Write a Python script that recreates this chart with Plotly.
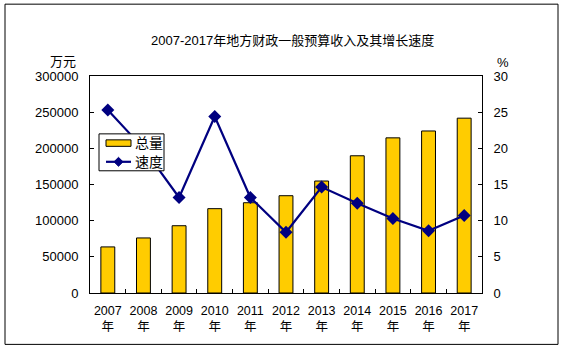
import plotly.graph_objects as go

years = ["2007", "2008", "2009", "2010", "2011", "2012", "2013", "2014", "2015", "2016", "2017"]
x_labels = [y + "<br>年" for y in years]
total = [63700, 76100, 93000, 116600, 124800, 134500, 154800, 189700, 214500, 224000, 241700]
speed = [25.3, 20.0, 13.2, 24.4, 13.2, 8.4, 14.65, 12.4, 10.3, 8.6, 10.7]
series_names = ["总量", "速度"]

FONT = "Liberation Sans, Arial, Noto Sans CJK SC, sans-serif"
BAR_COLOR = "#FFCC00"
LINE_COLOR = "#000080"

W, H = 563, 351
L, R, T, B = 90, 482, 76, 293.5
pw, ph = R - L, B - T

def px(x):
    return (x - L) / pw

def py(y):
    return (B - y) / ph

fig = go.Figure()
fig.add_trace(go.Bar(
    x=x_labels, y=total, name=series_names[0],
    marker=dict(color=BAR_COLOR, line=dict(color="black", width=1)),
    width=0.39, showlegend=False,
))
fig.add_trace(go.Scatter(
    x=x_labels, y=speed, name=series_names[1], yaxis="y2", mode="lines+markers",
    line=dict(color=LINE_COLOR, width=2.2),
    marker=dict(symbol="diamond", size=10, color=LINE_COLOR),
    showlegend=False,
))

fig.update_layout(
    width=W, height=H,
    margin=dict(l=L, r=W - R, t=T, b=H - B),
    paper_bgcolor="white", plot_bgcolor="white",
    font=dict(family=FONT, size=13, color="black"),
    showlegend=False,
    xaxis=dict(
        type="category", showline=True, linecolor="black", linewidth=1,
        mirror=True, ticks="inside", tickson="boundaries", ticklen=4,
        tickcolor="black", tickfont=dict(size=12.5), showgrid=False,
        range=[-0.5, 10.5], tickangle=0, ticklabelstandoff=6,
    ),
    yaxis=dict(
        range=[0, 300000], dtick=50000, showline=True, linecolor="black",
        linewidth=1, ticks="inside", ticklen=4, tickcolor="black",
        showgrid=False, zeroline=False, tickformat="d", ticklabelstandoff=8,
        tickfont=dict(size=13),
    ),
    yaxis2=dict(
        range=[0, 30], dtick=5, overlaying="y", side="right", showline=True,
        linecolor="black", linewidth=1, ticks="inside", ticklen=4,
        tickcolor="black", showgrid=False, zeroline=False, ticklabelstandoff=8,
        tickfont=dict(size=13),
    ),
    bargap=0.6,
)

fig.add_annotation(text="2007-2017年地方财政一般预算收入及其增长速度", xref="paper", yref="paper",
                   x=px(292), y=py(40), showarrow=False, font=dict(size=13),
                   xanchor="center", yanchor="middle")
fig.add_annotation(text="万元", xref="paper", yref="paper", x=px(78), y=py(61),
                   showarrow=False, xanchor="right", yanchor="middle", font=dict(size=13))
fig.add_annotation(text="%", xref="paper", yref="paper", x=px(495), y=py(62),
                   showarrow=False, xanchor="left", yanchor="middle", font=dict(size=13))

# outer frame
fig.add_shape(type="rect", xref="paper", yref="paper",
              x0=px(5), x1=px(558), y0=py(4), y1=py(345),
              line=dict(color="black", width=1), layer="below")

# custom legend
fig.add_shape(type="rect", xref="paper", yref="paper",
              x0=px(99), x1=px(164), y0=py(134), y1=py(171),
              line=dict(color="black", width=1), fillcolor="white", layer="above")
fig.add_shape(type="rect", xref="paper", yref="paper",
              x0=px(106), x1=px(131), y0=py(140), y1=py(146.5),
              line=dict(color="black", width=1), fillcolor=BAR_COLOR, layer="above")
fig.add_shape(type="line", xref="paper", yref="paper",
              x0=px(106), x1=px(131), y0=py(162), y1=py(162),
              line=dict(color=LINE_COLOR, width=2.2), layer="above")
cx, cy, d = 118.5, 162, 4.5
fig.add_shape(type="path", xref="paper", yref="paper",
              path=f"M {px(cx - d)} {py(cy)} L {px(cx)} {py(cy - d)} L {px(cx + d)} {py(cy)} L {px(cx)} {py(cy + d)} Z",
              line=dict(color=LINE_COLOR, width=1), fillcolor=LINE_COLOR, layer="above")
fig.add_annotation(text=series_names[0], xref="paper", yref="paper", x=px(133), y=py(143),
                   showarrow=False, xanchor="left", yanchor="middle", font=dict(size=14))
fig.add_annotation(text=series_names[1], xref="paper", yref="paper", x=px(133), y=py(162),
                   showarrow=False, xanchor="left", yanchor="middle", font=dict(size=14))

fig.write_html("out.html")
